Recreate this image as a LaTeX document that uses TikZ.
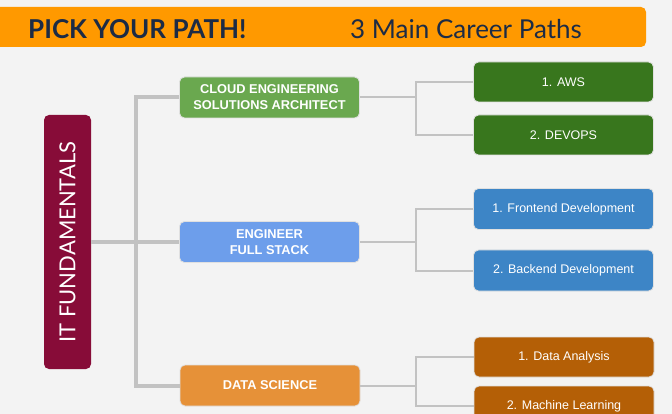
\documentclass[tikz,border=0pt]{standalone}
\usepackage{fontspec}
\setmainfont{Liberation Sans}
\newfontfamily\lato{Lato}
\definecolor{bgc}{HTML}{F3F3F3}
\definecolor{bannerc}{HTML}{FF9900}
\definecolor{titlec}{HTML}{1C2B45}
\definecolor{rootc}{HTML}{870C38}
\definecolor{cloudc}{HTML}{6AA84F}
\definecolor{cloudleaf}{HTML}{38761D}
\definecolor{engc}{HTML}{6D9EEB}
\definecolor{engleaf}{HTML}{3D85C6}
\definecolor{dsc}{HTML}{E69138}
\definecolor{dsleaf}{HTML}{B45F06}
\definecolor{linec}{HTML}{C2C2C2}
\tikzset{
  box/.style={rectangle, rounded corners=5pt, draw=black!12, line width=0.8pt,
    text=white, align=center, inner sep=0pt},
  pathbox/.style={box, minimum width=180pt, minimum height=41pt,
    font=\fontsize{12.8}{16}\selectfont\bfseries},
  leafbox/.style={box, minimum width=180pt, minimum height=40pt,
    font=\fontsize{12.5}{15}\selectfont},
  trunk/.style={draw=linec, line width=4pt},
  branch/.style={draw=linec, line width=2pt},
}
\begin{document}
\begin{tikzpicture}[x=1pt, y=-1pt]
  \useasboundingbox (0,0) rectangle (672,414);
  \clip (0,0) rectangle (672,414);
  \fill[bgc] (0,0) rectangle (672,414);

  % title banner
  \fill[bannerc, rounded corners=5pt] (-10,7) rectangle (646,47);
  \node[anchor=base west, inner sep=0pt, text=titlec,
        font=\lato\bfseries\fontsize{26}{30}\selectfont] (title) at (28,39) {PICK YOUR PATH!};
  \node[anchor=base west, inner sep=0pt, text=titlec,
        font=\lato\fontsize{26}{30}\selectfont] (subtitle) at (350,39) {3 Main Career Paths};

  % root
  \node[box, fill=rootc, draw=none, minimum width=47pt, minimum height=254pt] (it) at (67.5,242) {};
  \node[rotate=90, text=white, font=\lato\fontsize{22}{26}\selectfont] (itlabel) at (67.5,242) {IT FUNDAMENTALS};

  % career paths
  \node[pathbox, fill=cloudc] (cloud) at (269.5,97.5) {CLOUD ENGINEERING\\SOLUTIONS ARCHITECT};
  \node[pathbox, fill=engc] (eng) at (269.5,242) {ENGINEER\\FULL STACK};
  \node[pathbox, fill=dsc] (ds) at (270,385.5) {DATA SCIENCE};

  % specialisations
  \node[leafbox, fill=cloudleaf] (aws) at (563.5,82) {1. AWS};
  \node[leafbox, fill=cloudleaf] (devops) at (563.5,135) {2. DEVOPS};
  \node[leafbox, fill=engleaf, minimum height=41pt] (front) at (563.5,209) {1. Frontend Development};
  \node[leafbox, fill=engleaf, minimum height=41pt] (back) at (563.5,270.5) {2. Backend Development};
  \node[leafbox, fill=dsleaf] (da) at (564,357) {1. Data Analysis};
  \node[leafbox, fill=dsleaf] (ml) at (564,406) {2. Machine Learning};

  % trunk connectors
  \coordinate (jt) at (136,242);
  \path[trunk] (it.east) -- (eng.west);
  \path[trunk, line join=miter] (cloud.west) -| (jt) |- (ds.west);

  % branch connectors
  \coordinate (jc) at (416,97.5);
  \coordinate (je) at (416,242);
  \coordinate (jd) at (416,385.5);
  \path[branch] (cloud.east) -- (jc);
  \path[branch] (aws.west) -| (jc) |- (devops.west);
  \path[branch] (eng.east) -- (je);
  \path[branch] (front.west) -| (je) |- (back.west);
  \path[branch] (ds.east) -- (jd);
  \path[branch] (da.west) -| (jd) |- (ml.west);
\end{tikzpicture}
\end{document}
